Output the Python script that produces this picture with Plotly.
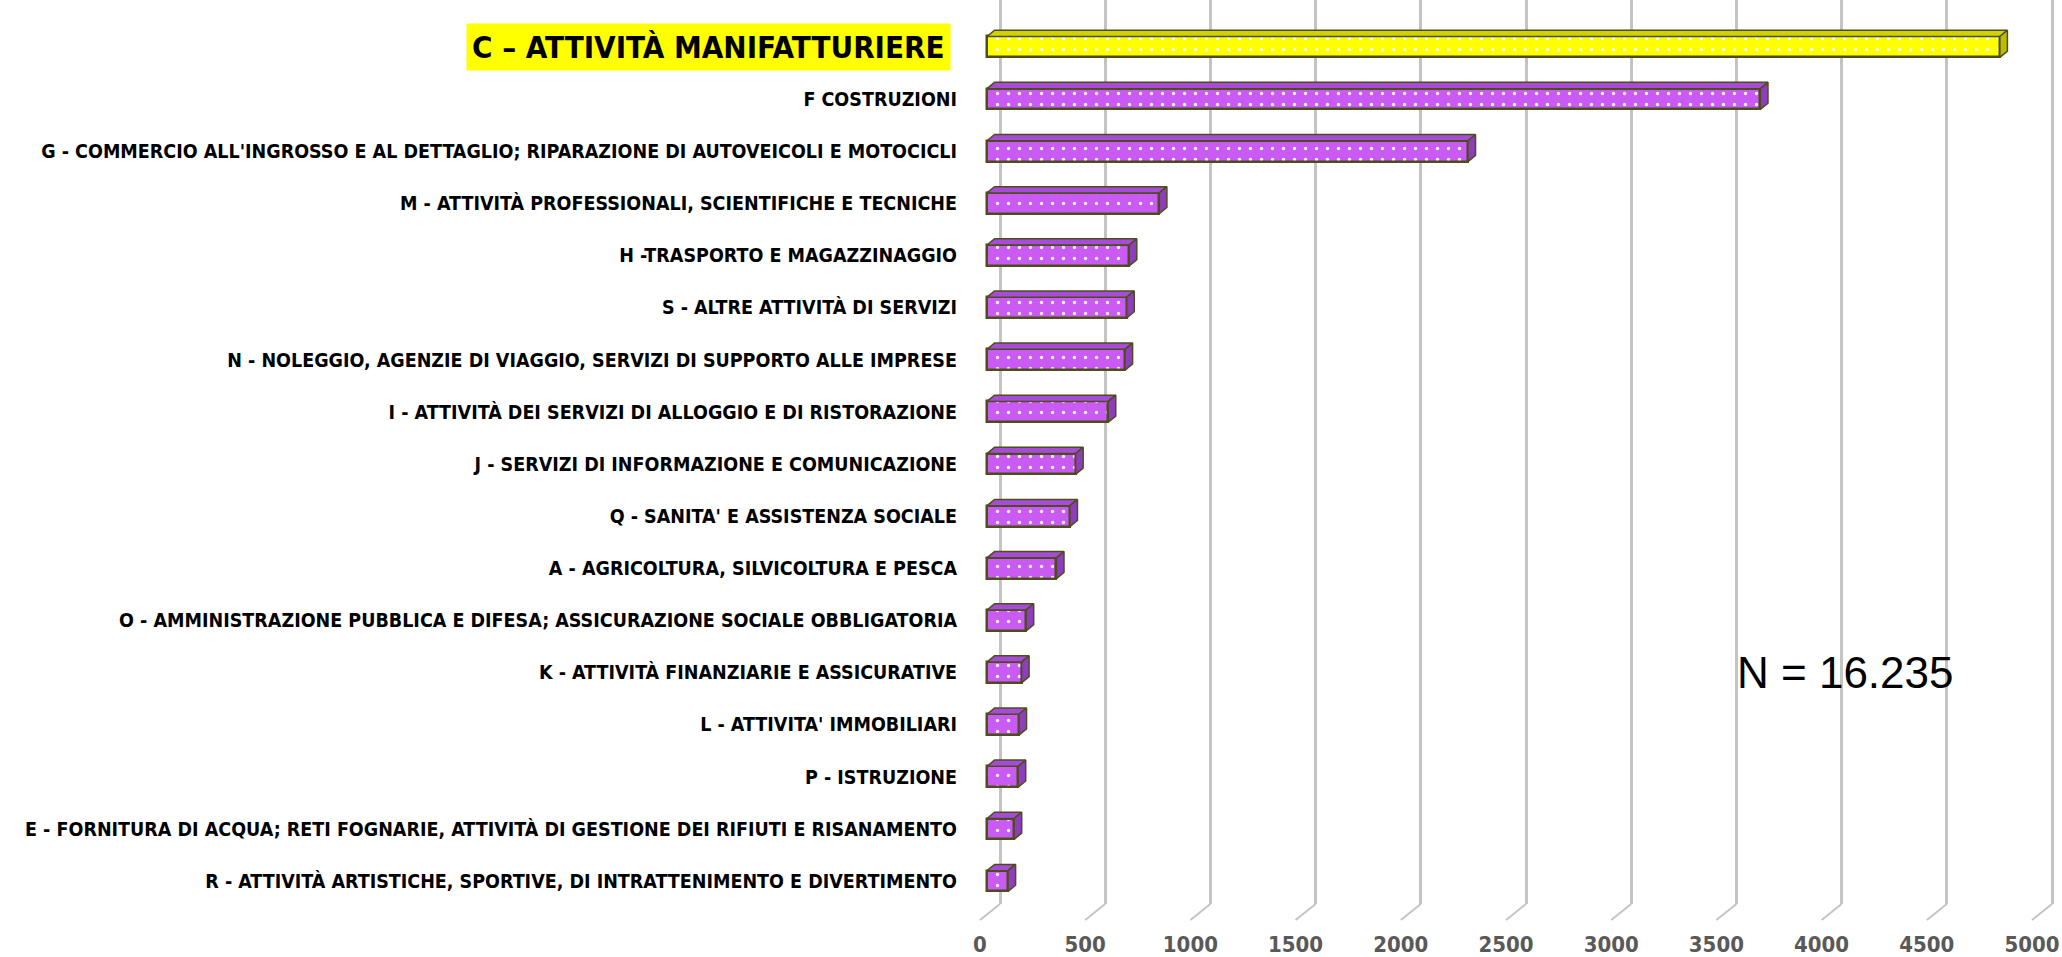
import plotly.graph_objects as go

# ---- data (top to bottom as shown) ----
categories = [
    "C – ATTIVITÀ MANIFATTURIERE",
    "F COSTRUZIONI",
    "G - COMMERCIO ALL'INGROSSO E AL DETTAGLIO; RIPARAZIONE DI AUTOVEICOLI E MOTOCICLI",
    "M - ATTIVITÀ PROFESSIONALI, SCIENTIFICHE E TECNICHE",
    "H -TRASPORTO E MAGAZZINAGGIO",
    "S - ALTRE ATTIVITÀ DI SERVIZI",
    "N - NOLEGGIO, AGENZIE DI VIAGGIO, SERVIZI DI SUPPORTO ALLE IMPRESE",
    "I - ATTIVITÀ DEI SERVIZI DI ALLOGGIO E DI RISTORAZIONE",
    "J - SERVIZI DI INFORMAZIONE E COMUNICAZIONE",
    "Q - SANITA' E ASSISTENZA SOCIALE",
    "A - AGRICOLTURA, SILVICOLTURA E PESCA",
    "O - AMMINISTRAZIONE PUBBLICA E DIFESA; ASSICURAZIONE SOCIALE OBBLIGATORIA",
    "K - ATTIVITÀ FINANZIARIE E ASSICURATIVE",
    "L - ATTIVITA' IMMOBILIARI",
    "P - ISTRUZIONE",
    "E - FORNITURA DI ACQUA; RETI FOGNARIE, ATTIVITÀ DI GESTIONE DEI RIFIUTI E RISANAMENTO",
    "R - ATTIVITÀ ARTISTICHE, SPORTIVE, DI INTRATTENIMENTO E DIVERTIMENTO",
]
values = [4814, 3676, 2286, 819, 676, 664, 656, 576, 421, 394, 330, 186, 164, 152, 148, 129, 100]
highlight = [True] + [False] * 16
x_ticks = [0, 500, 1000, 1500, 2000, 2500, 3000, 3500, 4000, 4500, 5000]
total_label = "N = 16.235"

# ---- styles ----
FRONT = {True: "#FFFF00", False: "#C95BF2"}
TOP = {True: "#D2D200", False: "#A64CD8"}
SIDE = {True: "#BDBD00", False: "#8E3EBD"}
EDGE = "#4D4D1C"
GRID = "#C4C4C4"
LABEL_FONT = "Liberation Sans Narrow, DejaVu Sans Condensed, Arial Narrow, sans-serif"

n = len(categories)
pos = [n - 1 - i for i in range(n)]
bar_w = 0.40
half = bar_w / 2
dx = 36      # depth offset in x data units
dy = 0.12    # depth offset in category units

fig = go.Figure()

# depth faces (top and side), grouped by colour
for hl in (False, True):
    tx, ty, sx, sy = [], [], [], []
    for p, v, h in zip(pos, values, highlight):
        if h != hl:
            continue
        tx += [0, v, v + dx, dx, 0, None]
        ty += [p + half, p + half, p + half + dy, p + half + dy, p + half, None]
        sx += [v, v + dx, v + dx, v, v, None]
        sy += [p - half, p - half + dy, p + half + dy, p + half, p - half, None]
    fig.add_trace(go.Scatter(x=tx, y=ty, mode="lines", fill="toself", fillcolor=TOP[hl],
                             line=dict(color=EDGE, width=1.5), hoverinfo="skip", showlegend=False))
    fig.add_trace(go.Scatter(x=sx, y=sy, mode="lines", fill="toself", fillcolor=SIDE[hl],
                             line=dict(color=EDGE, width=1.5), hoverinfo="skip", showlegend=False))

# front faces: solid colour
front_colors = [FRONT[h] for h in highlight]
fig.add_trace(go.Bar(
    x=values, y=pos, orientation="h", width=bar_w,
    marker=dict(color=front_colors, line=dict(width=0)),
    hovertext=categories, hoverinfo="text+x", showlegend=False,
))
# front faces: white dotted texture and outline on top
fig.add_trace(go.Bar(
    x=values, y=pos, orientation="h", width=bar_w,
    marker=dict(color="rgba(0,0,0,0)", line=dict(color=EDGE, width=2.5),
                pattern=dict(shape=".", fgcolor="white", bgcolor="rgba(0,0,0,0)",
                             fgopacity=0.95, size=11, solidity=0.07, fillmode="replace")),
    hoverinfo="skip", showlegend=False,
))

# invisible trace to hold the back-wall grid axis
fig.add_trace(go.Scatter(x=[x_ticks[0], x_ticks[-1]], y=[pos[-1], pos[0]], xaxis="x2",
                         mode="markers", marker=dict(opacity=0), hoverinfo="skip",
                         showlegend=False))

ticktext = ["" if h else c for c, h in zip(categories, highlight)]

# floor diagonals under each gridline
shapes = []
for t in x_ticks:
    shapes.append(dict(type="line", xref="x2", xsizemode="pixel", xanchor=t, x0=0, x1=-20,
                       yref="paper", ysizemode="pixel", yanchor=0, y0=0, y1=-16,
                       line=dict(color=GRID, width=2), layer="below"))

annotations = []
for c, p, h in zip(categories, pos, highlight):
    if h:
        annotations.append(dict(text=c, xref="paper", x=0, xanchor="right", xshift=-19,
                                yref="y", y=p, yanchor="middle", showarrow=False,
                                bgcolor="#FFFF00", borderpad=5,
                                font=dict(family=LABEL_FONT, size=31, color="black", weight="bold")))
annotations.append(dict(text=total_label, xref="x", x=4080, yref="y", y=4.0,
                        showarrow=False, xanchor="center", yanchor="middle",
                        font=dict(family="Liberation Sans, Arial, sans-serif", size=44, color="black")))

fig.update_layout(
    width=2062, height=957,
    margin=dict(l=970, r=2, t=0, b=50),
    paper_bgcolor="white", plot_bgcolor="white",
    barmode="overlay", bargap=0,
    xaxis=dict(range=[-80.8, 5100], visible=False, fixedrange=True),
    xaxis2=dict(range=[-142.6, 5038], overlaying="x", side="bottom", anchor="y",
                tickvals=x_ticks, ticktext=[str(t) for t in x_ticks],
                showgrid=True, gridcolor=GRID, gridwidth=2.5, zeroline=False, showline=False,
                ticks="", ticklabelstandoff=25, ticklabelshift=-20,
                tickfont=dict(family=LABEL_FONT, size=22, color="#595959", weight="bold")),
    yaxis=dict(range=[-0.44, 16.9], tickvals=pos, ticktext=ticktext, showgrid=False,
               zeroline=False, showline=False, ticks="", ticklabelstandoff=12, automargin=False,
               tickfont=dict(family=LABEL_FONT, size=19.5, color="black", weight="bold")),
    shapes=shapes,
    annotations=annotations,
)

fig.write_html("out.html", config={"displayModeBar": False},
               post_script="document.body.style.margin='0px';document.body.style.overflow='hidden';")
